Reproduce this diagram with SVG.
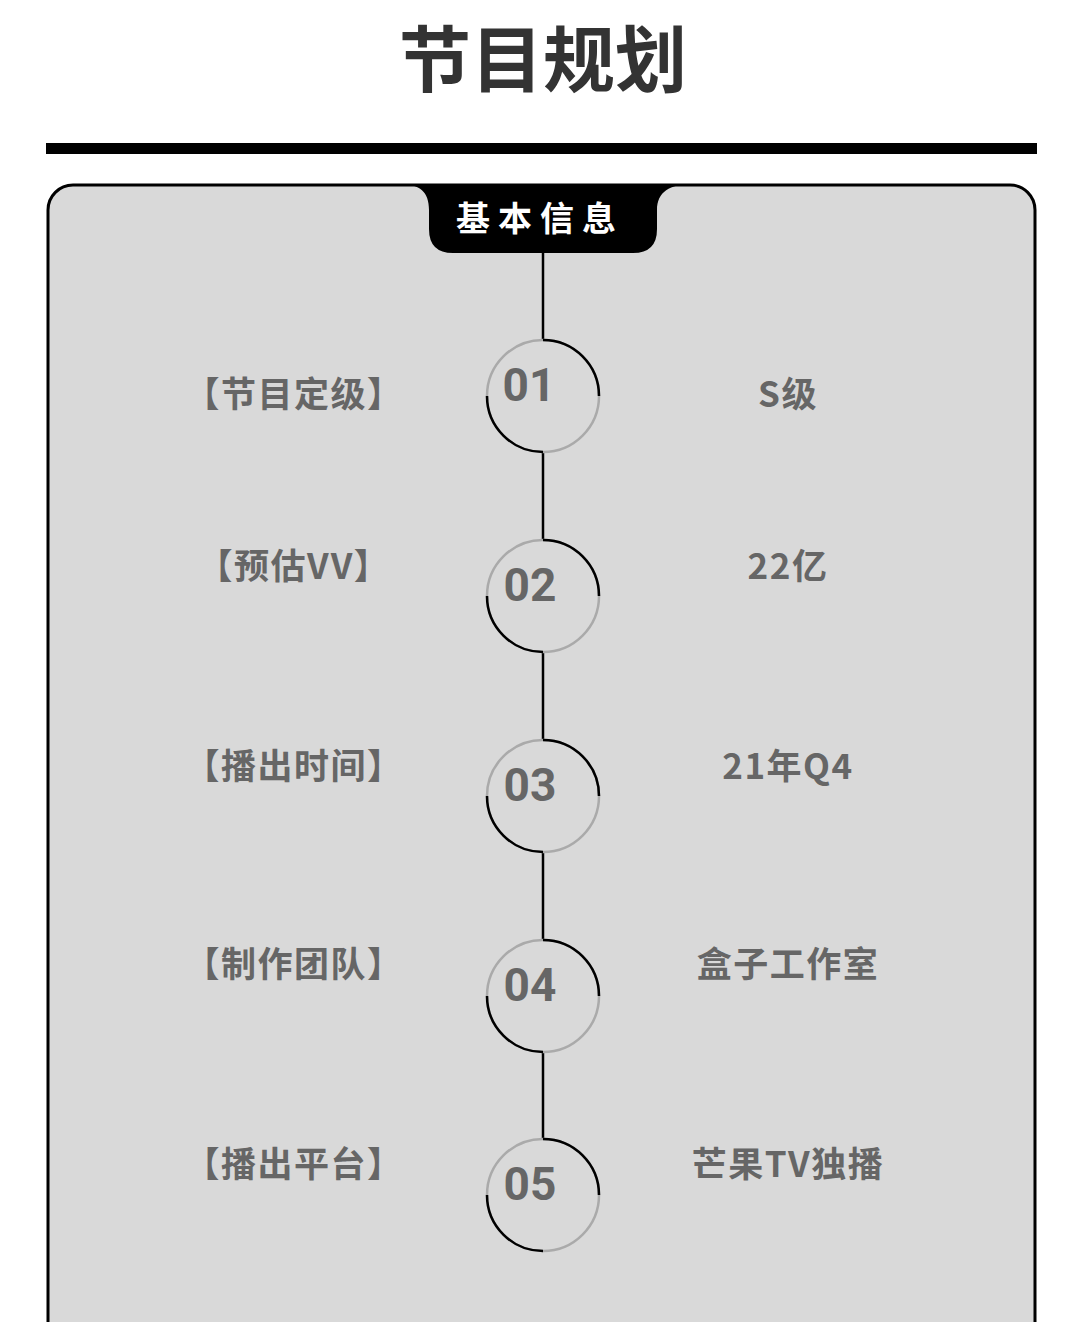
<svg xmlns="http://www.w3.org/2000/svg" width="1079" height="1322" viewBox="0 0 1079 1322">
<style>
.lbl{font-family:"Noto Sans CJK SC","Noto Sans",sans-serif;font-weight:700;font-size:35px;fill:#666;text-anchor:middle;letter-spacing:1.5px}
.num{font-family:Roboto,"Liberation Sans",sans-serif;font-weight:700;font-size:46px;fill:#666;text-anchor:middle}
.seg{stroke:#000;stroke-width:2.5}
.cb{fill:none;stroke:#000;stroke-width:2.5}
.cg{fill:none;stroke:#aaa;stroke-width:2.5}
</style>
<rect width="1079" height="1322" fill="#fff"/>
<text x="543" y="86" font-family="Noto Sans CJK SC,sans-serif" font-weight="700" font-size="72" fill="#333" text-anchor="middle">节目规划</text>
<rect x="46" y="143" width="991" height="11" fill="#000"/>
<g id="card">
<rect x="48" y="185" width="987" height="1180" rx="25" fill="#d9d9d9" stroke="#000" stroke-width="3"/>
</g>
<g id="tab">
<path d="M400,184 C420,184 429,192 429,210 L429,229 Q429,253 453,253 L633,253 Q657,253 657,229 L657,210 C657,192 670,184 692,184 Z" fill="#000"/>
<text x="540" y="231" font-family="Noto Sans CJK SC,sans-serif" font-weight="700" font-size="34" fill="#fff" text-anchor="middle" letter-spacing="8">基本信息</text>
</g>
<g id="connectors">
<line class="seg" x1="543" y1="253" x2="543" y2="340"/>
<line class="seg" x1="543" y1="452" x2="543" y2="540"/>
<line class="seg" x1="543" y1="652" x2="543" y2="740"/>
<line class="seg" x1="543" y1="852" x2="543" y2="940"/>
<line class="seg" x1="543" y1="1052" x2="543" y2="1140"/>
</g>
<defs>
<g id="ring">
<circle r="56" class="cg"/>
<path d="M0,-56 A56,56 0 0 1 56,0" class="cb"/>
<path d="M0,56 A56,56 0 0 1 -56,0" class="cb"/>
</g>
</defs>
<g id="node1">
<use href="#ring" x="543" y="396"/>
<text class="num" x="529" y="401">01</text>
<text class="lbl" x="294" y="407">【节目定级】</text>
<text class="lbl" x="788" y="407">S级</text>
</g>
<g id="node2">
<use href="#ring" x="543" y="596"/>
<text class="num" x="530" y="601">02</text>
<text class="lbl" x="294" y="579">【预估VV】</text>
<text class="lbl" x="788" y="579">22亿</text>
</g>
<g id="node3">
<use href="#ring" x="543" y="796"/>
<text class="num" x="530" y="801">03</text>
<text class="lbl" x="294" y="779">【播出时间】</text>
<text class="lbl" x="788" y="779">21年Q4</text>
</g>
<g id="node4">
<use href="#ring" x="543" y="996"/>
<text class="num" x="530" y="1001">04</text>
<text class="lbl" x="294" y="977">【制作团队】</text>
<text class="lbl" x="788" y="977">盒子工作室</text>
</g>
<g id="node5">
<use href="#ring" x="543" y="1195"/>
<text class="num" x="530" y="1200">05</text>
<text class="lbl" x="294" y="1177">【播出平台】</text>
<text class="lbl" x="788" y="1177">芒果TV独播</text>
</g>
</svg>
